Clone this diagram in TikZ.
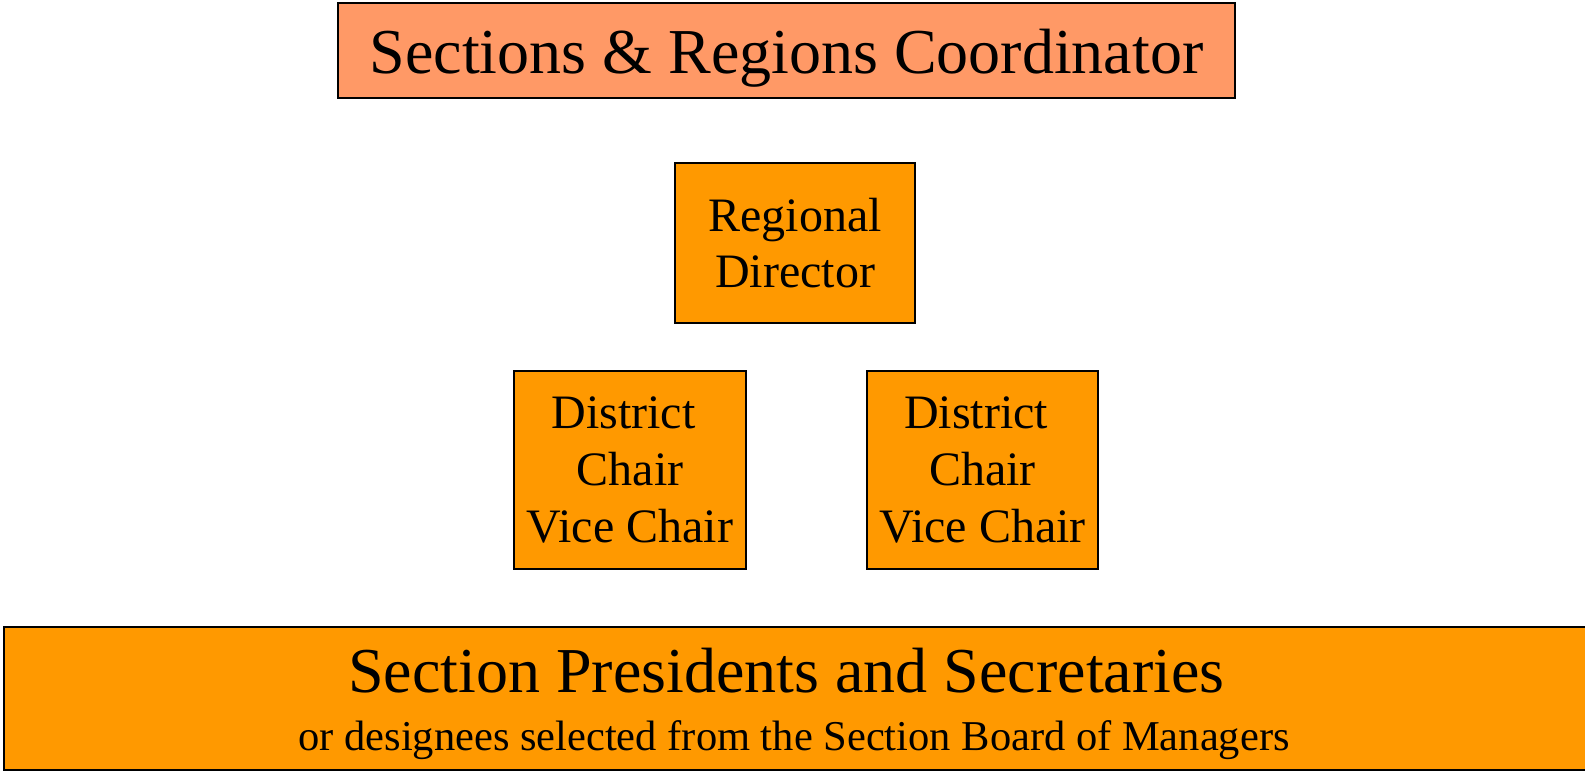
\documentclass[tikz,border=0pt]{standalone}
\usepackage{fontspec}
\setmainfont{Liberation Serif}
\definecolor{salmon}{HTML}{FF9966}
\definecolor{orangebox}{HTML}{FF9900}
\tikzset{
  box/.style={draw=black, line width=1.6pt, inner sep=0pt, align=center},
  topbox/.style={box, fill=salmon},
  orgbox/.style={box, fill=orangebox},
}
\begin{document}
\begin{tikzpicture}[x=1pt,y=-1pt]
\useasboundingbox (0,0) rectangle (1585,771);
\node[topbox, minimum width=897pt, minimum height=95pt] (coord) at (786.5,50.5) {};
\node[inner sep=0pt, anchor=base, font=\fontsize{64}{70}\selectfont] (coordtext) at (786.5,73) {Sections \& Regions Coordinator};
\node[orgbox, minimum width=240pt, minimum height=160pt, font=\fontsize{48}{56}\selectfont] (rd) at (795,243) {Regional\\Director};
\node[orgbox, minimum width=232pt, minimum height=198pt, font=\fontsize{48}{57}\selectfont] (dl) at (630,470) {District\hspace*{13pt}\\Chair\\Vice Chair};
\node[orgbox, minimum width=231pt, minimum height=198pt, font=\fontsize{48}{57}\selectfont] (dr) at (982.5,470) {District\hspace*{13pt}\\Chair\\Vice Chair};
\node[orgbox, minimum width=1590pt, minimum height=143pt, anchor=west] (sp) at (3,698.5) {};
\node[inner sep=0pt, align=center, anchor=base] (sptitle) at (786.5,692) {\fontsize{64}{70}\selectfont Section Presidents and Secretaries};
\node[inner sep=0pt, anchor=base] (spsub) at (794,750) {\fontsize{42.5}{48}\selectfont or designees selected from the Section Board of Managers};
\end{tikzpicture}
\end{document}
